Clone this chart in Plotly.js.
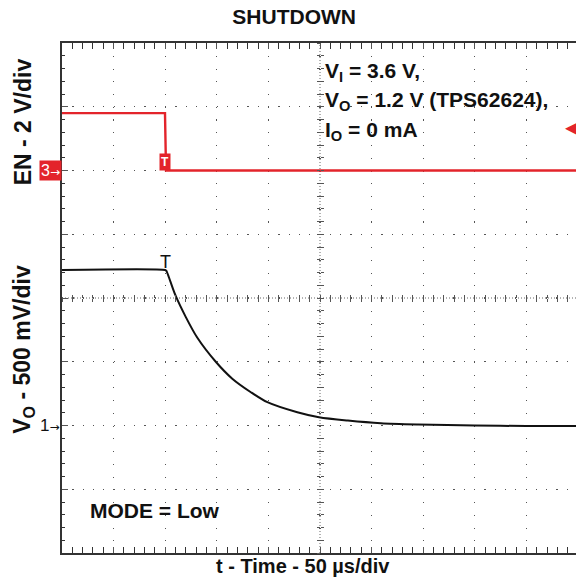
<!DOCTYPE html>
<html>
<head>
<meta charset="utf-8">
<script src="https://cdn.plot.ly/plotly-3.0.1.min.js"></script>
<style>
html,body{margin:0;padding:0;overflow:hidden;background:#fff;}
#chart{width:578px;height:584px;}
</style>
</head>
<body>
<div id="chart"></div>
<script>
// ---- data (time in microseconds, volts) ----
const enTime  = [0, 99.8, 100.8, 500];
const enVolts = [1.8, 1.8, 0, 0];

const voTime  = [0, 100, 101, 105, 110, 120, 131, 149, 165, 183, 199, 228, 249, 277, 309, 345, 400, 450, 500];
const voVolts = [1.22, 1.22, 1.215, 1.13, 1.02, 0.85, 0.69, 0.50, 0.367, 0.261, 0.183, 0.104, 0.065, 0.039, 0.018, 0.008, 0.0, -0.004, -0.004];

const triggerTime = 100;      // µs
const triggerLevel = 1.35;    // V on EN channel
const timeRange = [0, 500];   // 50 µs/div x 10 div
const voRange = [-1, 3];      // 500 mV/div
const enRange = [-12, 4];     // 2 V/div

const titleText = 'SHUTDOWN';
const xTitle = 't - Time - 50 µs/div';
const enTitle = 'EN - 2 V/div';
const voTitle = 'V<sub>O</sub> - 500 mV/div';
const condLines = ['V<sub>I</sub> = 3.6 V,', 'V<sub>O</sub> = 1.2 V (TPS62624),', 'I<sub>O</sub> = 0 mA'];
const modeText = 'MODE = Low';
const enRefLabel = '3<span style="font-family:\'DejaVu Sans\';font-size:12px">→</span>';
const voRefLabel = '1<span style="font-family:\'DejaVu Sans\';font-size:12px">→</span>';

const FONT = '"Liberation Sans", Arial, Helvetica, sans-serif';
const RED = '#e3242b';
const GRID = '#555';

const traces = [
  {x: enTime, y: enVolts, type: 'scatter', mode: 'lines', xaxis: 'x', yaxis: 'y2',
   line: {color: RED, width: 2.4}, hoverinfo: 'skip'},
  {x: voTime, y: voVolts, type: 'scatter', mode: 'lines', xaxis: 'x', yaxis: 'y',
   line: {color: '#111', width: 2, shape: 'spline', smoothing: 0.8}, hoverinfo: 'skip'}
];

const hidden = {showticklabels: false, showgrid: false, zeroline: false, showline: false};

const condY = [0.943, 0.886, 0.827];
const annotations = condLines.map((t, i) => ({
  text: '<b>' + t + '</b>', xref: 'paper', yref: 'paper', x: 0.505, y: condY[i],
  xanchor: 'left', yanchor: 'middle', showarrow: false, font: {family: FONT, size: 21, color: '#111'}
}));
annotations.push(
  {text: '<b>' + modeText + '</b>', xref: 'paper', yref: 'paper', x: 0.051, y: 0.084,
   xanchor: 'left', yanchor: 'middle', showarrow: false, font: {family: FONT, size: 21, color: '#111'}},
  {text: '<b>' + xTitle + '</b>', xref: 'paper', yref: 'paper', x: 0.468, y: -0.026,
   xanchor: 'center', yanchor: 'middle', showarrow: false, font: {family: FONT, size: 20, color: '#111'}},
  {text: '<b>' + enTitle + '</b>', xref: 'paper', yref: 'paper', x: -0.076, y: 0.846, textangle: -90,
   xanchor: 'center', yanchor: 'middle', showarrow: false, font: {family: FONT, size: 23, color: '#111'}},
  {text: '<b>' + voTitle + '</b>', xref: 'paper', yref: 'paper', x: -0.076, y: 0.40, textangle: -90,
   xanchor: 'center', yanchor: 'middle', showarrow: false, font: {family: FONT, size: 23, color: '#111'}},
  // channel reference markers
  {text: enRefLabel, xref: 'paper', yref: 'y2', x: 0, y: 0, xanchor: 'right', yanchor: 'middle', xshift: 0,
   showarrow: false, bgcolor: RED, borderpad: 1, font: {family: FONT, size: 16, color: '#fff'}},
  {text: voRefLabel, xref: 'paper', yref: 'y', x: 0, y: 0, xanchor: 'right', yanchor: 'middle', xshift: 0,
   showarrow: false, font: {family: FONT, size: 17, color: '#111'}},
  // trigger markers
  {text: '<b>T</b>', xref: 'x', yref: 'y2', x: triggerTime, y: 0, xanchor: 'center', yanchor: 'bottom',
   showarrow: false, bgcolor: RED, borderpad: 1, font: {family: FONT, size: 12, color: '#fff'}},
  {text: 'T', xref: 'x', yref: 'y', x: triggerTime, y: voVolts[1], xanchor: 'center', yanchor: 'bottom', yshift: -4,
   showarrow: false, font: {family: FONT, size: 18, color: '#111'}},
  {text: '◀', xref: 'paper', yref: 'y2', x: 1, y: triggerLevel, xanchor: 'right', yanchor: 'middle', xshift: 2,
   showarrow: false, font: {family: 'DejaVu Sans', size: 16, color: RED}}
);

const layout = {
  width: 578, height: 584,
  margin: {l: 62, r: 0, t: 43, b: 31},
  paper_bgcolor: '#fff', plot_bgcolor: '#fff',
  showlegend: false,
  title: {text: '<b>' + titleText + '</b>', xref: 'container', yref: 'container', x: 0.509, y: 0.971,
          xanchor: 'center', yanchor: 'middle', font: {family: FONT, size: 21, color: '#111'}},
  xaxis: {range: timeRange, dtick: 50, tick0: 0, showticklabels: false, zeroline: false,
          showgrid: true, gridcolor: GRID, gridwidth: 1.2, griddash: '1.2px,11.55px',
          showline: true, linecolor: '#333', linewidth: 2, mirror: 'allticks',
          ticks: 'inside', ticklen: 6, tickcolor: GRID, tickwidth: 1,
          minor: {dtick: 10, tick0: 0, ticks: 'inside', ticklen: 3, tickcolor: '#333', tickwidth: 1, showgrid: false}},
  yaxis: {range: voRange, dtick: 0.5, tick0: 0, showticklabels: false, zeroline: false,
          showgrid: true, gridcolor: GRID, gridwidth: 1.2, griddash: '1.2px,9.1px',
          showline: true, linecolor: '#333', linewidth: 2, mirror: false,
          ticks: 'inside', ticklen: 6, tickcolor: GRID, tickwidth: 1,
          minor: {dtick: 0.1, tick0: 0, ticks: 'inside', ticklen: 3, tickcolor: '#333', tickwidth: 1, showgrid: false}},
  yaxis2: Object.assign({range: enRange, overlaying: 'y', side: 'left'}, hidden),
  // center cross ticks
  xaxis3: Object.assign({range: timeRange, overlaying: 'x', anchor: 'free', position: 0.5, dtick: 10, tick0: 0,
          ticks: 'outside', ticklen: 3, tickcolor: '#555', tickwidth: 1}, hidden),
  xaxis4: Object.assign({range: timeRange, overlaying: 'x', anchor: 'free', position: 0.5, dtick: 10, tick0: 0,
          ticks: 'inside', ticklen: 3, tickcolor: '#555', tickwidth: 1}, hidden),
  yaxis3: Object.assign({range: voRange, overlaying: 'y', anchor: 'free', position: 0.5, dtick: 0.1, tick0: 0,
          ticks: 'outside', ticklen: 3, tickcolor: '#555', tickwidth: 1}, hidden),
  yaxis4: Object.assign({range: voRange, overlaying: 'y', anchor: 'free', position: 0.5, dtick: 0.1, tick0: 0,
          ticks: 'inside', ticklen: 3, tickcolor: '#555', tickwidth: 1}, hidden),
  shapes: [
    {type: 'line', xref: 'paper', yref: 'paper', x0: 0.5, x1: 0.5, y0: 0, y1: 1,
     line: {color: '#666', width: 1, dash: '1px,2px'}, layer: 'below'},
    {type: 'line', xref: 'paper', yref: 'paper', x0: 0, x1: 1, y0: 0.5, y1: 0.5,
     line: {color: '#666', width: 1, dash: '1px,2px'}, layer: 'below'}
  ],
  annotations: annotations
};

// empty traces so the extra center axes are drawn
traces.push({x: [], y: [], xaxis: 'x3', yaxis: 'y3', type: 'scatter', hoverinfo: 'skip'});
traces.push({x: [], y: [], xaxis: 'x4', yaxis: 'y4', type: 'scatter', hoverinfo: 'skip'});

Plotly.newPlot('chart', traces, layout, {displayModeBar: false, staticPlot: true});
</script>
</body>
</html>
